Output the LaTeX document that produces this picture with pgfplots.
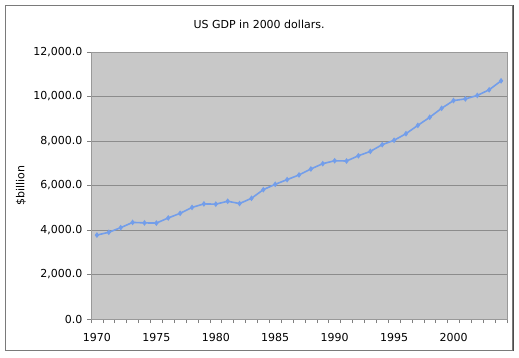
\documentclass[border=0pt]{standalone}
\usepackage{fontspec}
\setmainfont{DejaVu Sans}
\usepackage{pgfplots}
\pgfplotsset{compat=1.18}
\definecolor{plotbg}{HTML}{C8C8C8}
\definecolor{gdpline}{HTML}{739EEA}
\definecolor{gridc}{HTML}{8C8C8C}
\definecolor{framec}{HTML}{7A7A7A}
\newcommand\chfont{\fontsize{11}{13}\selectfont}
\begin{document}
\begin{tikzpicture}
\path[use as bounding box] (0pt,0pt) rectangle (519pt,357pt);
\draw[framec, line width=1pt] (5.5pt,6.5pt) rectangle (512pt,351.5pt);
\draw[black!70, line width=1pt] (513pt,6pt) -- (513pt,352pt);
\begin{axis}[
  at={(91pt,38pt)}, anchor=south west,
  width=416pt, height=267pt, scale only axis,
  xmin=1969.5, xmax=2004.5,
  ymin=0, ymax=12000,
  scaled y ticks=false,
  xtick={1970,1975,...,2000},
  minor xtick={1969.5,1970.5,...,2004.5},
  ytick={0,2000,...,12000},
  major x tick style={draw=none},
  minor x tick style={gray, line width=0.6pt},
  y tick style={gray, line width=0.6pt},
  tick align=outside,
  major tick length=4pt, minor tick length=4pt,
  xtick pos=bottom, ytick pos=left,
  axis background/.style={fill=plotbg},
  axis line style={gray!80},
  ymajorgrids, grid style={gridc, line width=0.6pt},
  tick label style={font=\chfont},
  xticklabel style={yshift=-6.5pt},
  yticklabel style={xshift=-1pt},
  /pgf/number format/assume math mode=true,
  xticklabel={\pgfmathprintnumber[1000 sep={}]{\tick}},
  yticklabel={\pgfmathprintnumber[fixed, fixed zerofill, precision=1, 1000 sep={,}]{\tick}},
  title={US GDP in 2000 dollars.},
  title style={font=\chfont, at={(axis description cs:0.404,1)}, anchor=base, yshift=18pt},
  ylabel={\$billion},
  ylabel style={font=\chfont, at={(axis description cs:-0.168,0.5)}, anchor=center},
]
\addplot[gdpline, line width=1.6pt, mark=diamond*, mark size=1.6pt] coordinates {
(1970,3771.9) (1971,3898.6) (1972,4105.0) (1973,4341.5) (1974,4319.6)
(1975,4311.2) (1976,4540.9) (1977,4750.5) (1978,5015.0) (1979,5173.4)
(1980,5161.7) (1981,5291.7) (1982,5189.3) (1983,5423.8) (1984,5813.6)
(1985,6053.7) (1986,6263.6) (1987,6475.1) (1988,6742.7) (1989,6981.4)
(1990,7112.5) (1991,7100.5) (1992,7336.6) (1993,7532.7) (1994,7835.5)
(1995,8031.7) (1996,8328.9) (1997,8703.5) (1998,9066.9) (1999,9470.3)
(2000,9817.0) (2001,9890.7) (2002,10048.8) (2003,10301.0) (2004,10703.5)
};
\end{axis}
\end{tikzpicture}
\end{document}
